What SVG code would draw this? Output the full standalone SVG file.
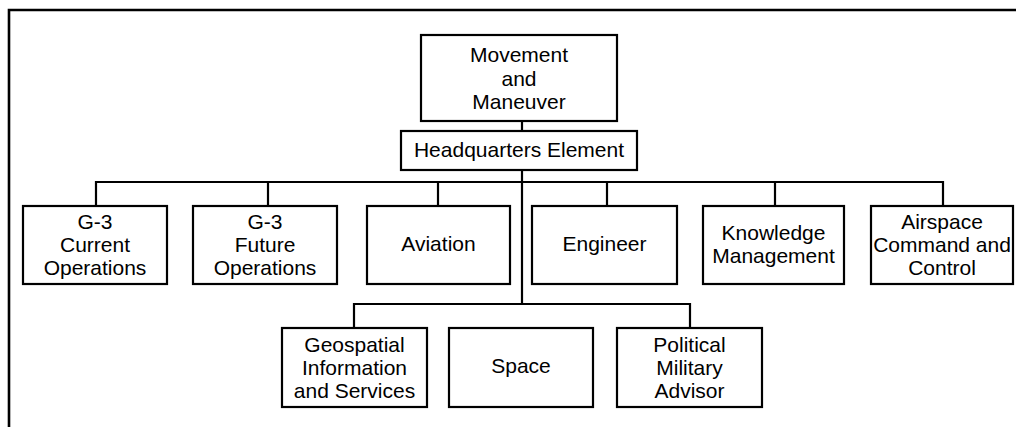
<svg xmlns="http://www.w3.org/2000/svg" width="1016" height="427" viewBox="0 0 1016 427">
<style>
.box{fill:#fff;stroke:#000;stroke-width:2.2}
.ln{fill:none;stroke:#000;stroke-width:2.2}
text{font-family:"Liberation Sans",Arial,sans-serif;font-size:21px;fill:#000;text-anchor:middle}
</style>
<rect width="1016" height="427" fill="#fff"/>
<path d="M9,430 V10 H1020" fill="none" stroke="#000" stroke-width="2.6"/>
<g id="connectors">
<line class="ln" x1="522" y1="121" x2="522" y2="131"/>
<line class="ln" x1="522" y1="170" x2="522" y2="304"/>
<polyline class="ln" points="96,206 96,182 943,182 943,206"/>
<line class="ln" x1="268" y1="182" x2="268" y2="206"/>
<line class="ln" x1="438" y1="182" x2="438" y2="206"/>
<line class="ln" x1="607" y1="182" x2="607" y2="206"/>
<line class="ln" x1="775" y1="182" x2="775" y2="206"/>
<polyline class="ln" points="354,328 354,304 690,304 690,328"/>
</g>
<g id="movement">
<rect class="box" x="421" y="35" width="196" height="86"/>
<text x="519" y="62">Movement</text>
<text x="519" y="85.5">and</text>
<text x="519" y="109">Maneuver</text>
</g>
<g id="hq">
<rect class="box" x="401" y="131" width="236" height="39"/>
<text x="519" y="157">Headquarters Element</text>
</g>
<g id="g3current">
<rect class="box" x="23" y="206" width="144" height="78"/>
<text x="95" y="229">G-3</text>
<text x="95" y="252">Current</text>
<text x="95" y="275">Operations</text>
</g>
<g id="g3future">
<rect class="box" x="193" y="206" width="144" height="78"/>
<text x="265" y="229">G-3</text>
<text x="265" y="252">Future</text>
<text x="265" y="275">Operations</text>
</g>
<g id="aviation">
<rect class="box" x="367" y="206" width="143" height="78"/>
<text x="438.5" y="250.5">Aviation</text>
</g>
<g id="engineer">
<rect class="box" x="532" y="206" width="145" height="78"/>
<text x="604.5" y="250.5">Engineer</text>
</g>
<g id="knowledge">
<rect class="box" x="703" y="206" width="141" height="78"/>
<text x="773.5" y="240">Knowledge</text>
<text x="773.5" y="263">Management</text>
</g>
<g id="airspace">
<rect class="box" x="871" y="206" width="142" height="78"/>
<text x="942" y="229">Airspace</text>
<text x="942" y="252">Command and</text>
<text x="942" y="275">Control</text>
</g>
<g id="geospatial">
<rect class="box" x="282" y="328" width="145" height="79"/>
<text x="354.5" y="352">Geospatial</text>
<text x="354.5" y="375">Information</text>
<text x="354.5" y="398">and Services</text>
</g>
<g id="space">
<rect class="box" x="449" y="328" width="144" height="79"/>
<text x="521" y="373">Space</text>
</g>
<g id="polmil">
<rect class="box" x="617" y="328" width="145" height="79"/>
<text x="689.5" y="352">Political</text>
<text x="689.5" y="375">Military</text>
<text x="689.5" y="398">Advisor</text>
</g>
</svg>
